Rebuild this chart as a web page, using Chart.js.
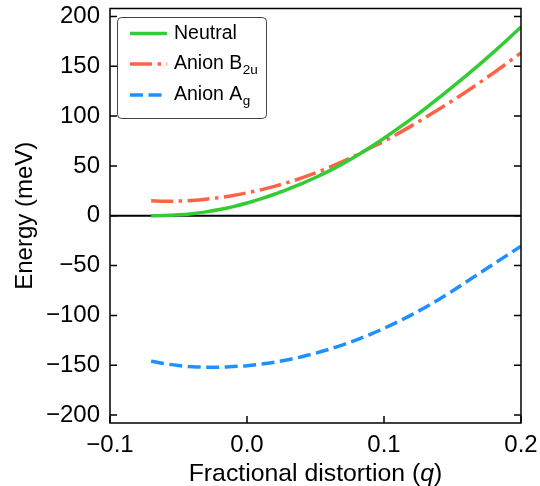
<!DOCTYPE html>
<html>
<head>
<meta charset="utf-8">
<script src="https://cdn.jsdelivr.net/npm/chart.js@4"></script>
<style>
  html, body { margin: 0; padding: 0; background: #fff; }
  #wrap { width: 540px; height: 486px; }
</style>
</head>
<body>
<div id="wrap"><canvas id="energyChart" width="540" height="486"></canvas></div>
<script>
/**
 * Fractional distortion q
 */
const distortion = [
  -0.07, -0.06, -0.05, -0.04, -0.03, -0.02, -0.01, 0.00, 0.01, 0.02,
  0.03, 0.04, 0.05, 0.06, 0.07, 0.08, 0.09, 0.10, 0.11, 0.12,
  0.13, 0.14, 0.15, 0.16, 0.17, 0.18, 0.19, 0.20
];

/**
 * Energies in meV for each state
 */
const neutral = [
  0.0, 0.2, 0.9, 2.1, 3.9, 6.2, 9.2, 12.8, 17.0, 21.6,
  26.8, 32.3, 38.4, 45.0, 52.3, 60.2, 68.7, 77.8, 87.4, 97.3,
  107.6, 118.3, 129.4, 140.7, 152.2, 164.2, 176.6, 189.5
];
const anionB2u = [
  15.0, 14.5, 14.7, 15.4, 16.6, 18.3, 20.4, 23.0, 26.0, 29.5,
  33.5, 38.0, 43.0, 48.5, 54.5, 61.0, 68.0, 74.8, 82.3, 90.2,
  98.4, 106.8, 115.5, 124.5, 133.8, 143.4, 153.3, 163.5
];
const anionAg = [
  -146.0, -148.5, -150.3, -151.5, -152.0, -152.0, -151.3, -150.5, -149.0, -147.0,
  -144.5, -141.5, -138.0, -134.0, -129.5, -124.5, -119.0, -113.0, -106.5, -99.5,
  -92.0, -84.0, -75.5, -66.5, -57.5, -48.5, -39.5, -30.5
];

/**
 * Tick positions
 */
const xTicks = [-0.1, 0.0, 0.1, 0.2];
const yTicks = [-200, -150, -100, -50, 0, 50, 100, 150, 200];

/**
 * Legend text, main part and subscript
 */
const labelMain = ['Neutral', 'Anion B', 'Anion A'];
const labelSub = ['', '2u', 'g'];

const colors = ['#33cc33', '#ff6347', '#1e90ff'];
const dashes = [[], [22, 5.5, 3.5, 5.5], [13, 5.5]];

const FONT = "'Liberation Sans', Arial, sans-serif";
const minus = (s) => s.replace('-', '\u2212');

const toPoints = (ys) => distortion.map((x, i) => ({ x, y: ys[i] }));

/**
 * Box, inward ticks, zero line, x title and legend
 */
const decorations = {
  id: 'decorations',
  beforeDatasetsDraw(chart) {
    const { ctx, chartArea: a, scales: { y } } = chart;
    const y0 = y.getPixelForValue(0);
    ctx.save();
    ctx.strokeStyle = '#000';
    ctx.lineWidth = 2;
    ctx.beginPath();
    ctx.moveTo(a.left, y0);
    ctx.lineTo(a.right, y0);
    ctx.stroke();
    ctx.restore();
  },
  afterDraw(chart) {
    const { ctx, chartArea: a, scales: { x, y } } = chart;
    const TICK = 7;
    ctx.save();
    ctx.strokeStyle = '#000';
    ctx.lineWidth = 1.5;

    ctx.beginPath();
    y.ticks.forEach(t => {
      const py = y.getPixelForValue(t.value);
      ctx.moveTo(a.left, py); ctx.lineTo(a.left + TICK, py);
      ctx.moveTo(a.right, py); ctx.lineTo(a.right - TICK, py);
    });
    x.ticks.forEach(t => {
      const px = x.getPixelForValue(t.value);
      ctx.moveTo(px, a.bottom); ctx.lineTo(px, a.bottom - TICK);
    });
    ctx.stroke();

    ctx.strokeRect(a.left, a.top, a.right - a.left, a.bottom - a.top);

    // x axis title with italic q
    ctx.fillStyle = '#000';
    ctx.textBaseline = 'alphabetic';
    const fReg = `24.8px ${FONT}`;
    const fIt = `italic 24.8px ${FONT}`;
    const parts = [['Fractional distortion (', fReg], ['q', fIt], [')', fReg]];
    let total = 0;
    parts.forEach(([s, f]) => { ctx.font = f; total += ctx.measureText(s).width; });
    let tx = (a.left + a.right) / 2 - total / 2;
    parts.forEach(([s, f]) => {
      ctx.font = f;
      ctx.fillText(s, tx, 481);
      tx += ctx.measureText(s).width;
    });

    // legend
    const bx = 117.5, by = 17.5, bw = 149, bh = 101;
    ctx.fillStyle = '#fff';
    ctx.strokeStyle = '#444';
    ctx.lineWidth = 1;
    ctx.beginPath();
    ctx.roundRect(bx, by, bw, bh, 4);
    ctx.fill();
    ctx.stroke();

    const rows = [33.5, 64, 95];
    labelMain.forEach((label, i) => {
      const ry = rows[i];
      ctx.strokeStyle = colors[i];
      ctx.lineWidth = 3.5;
      ctx.setLineDash(dashes[i]);
      ctx.beginPath();
      ctx.moveTo(130, ry);
      ctx.lineTo(167, ry);
      ctx.stroke();
      ctx.setLineDash([]);

      ctx.fillStyle = '#000';
      ctx.textBaseline = 'middle';
      ctx.font = `19.5px ${FONT}`;
      ctx.fillText(label, 174, ry);
      if (labelSub[i]) {
        const w = ctx.measureText(label).width;
        ctx.font = `13.5px ${FONT}`;
        ctx.fillText(labelSub[i], 174 + w + 0.5, ry + 6);
      }
    });
    ctx.restore();
  }
};

const datasets = [neutral, anionB2u, anionAg].map((ys, i) => ({
  label: labelMain[i] + labelSub[i],
  data: toPoints(ys),
  borderColor: colors[i],
  borderWidth: 3.5,
  borderDash: dashes[i],
  pointRadius: 0,
  fill: false,
  cubicInterpolationMode: 'monotone'
}));

const energyChart = new Chart(document.getElementById('energyChart'), {
  type: 'line',
  data: { datasets },
  options: {
    responsive: false,
    animation: false,
    events: [],
    layout: { padding: { top: 8.5, right: 19, left: 0, bottom: 0 } },
    plugins: { legend: { display: false }, tooltip: { enabled: false } },
    scales: {
      x: {
        type: 'linear',
        min: -0.1,
        max: 0.2,
        grid: { display: false, drawTicks: false },
        border: { display: false },
        ticks: {
          padding: 8,
          color: '#000',
          font: { family: FONT, size: 24 },
          callback: (v) => minus(v.toFixed(1))
        },
        afterBuildTicks: (s) => { s.ticks = xTicks.map(value => ({ value })); },
        afterFit: (s) => { s.height = 63; s.paddingLeft = 0; s.paddingRight = 0; }
      },
      y: {
        min: -208,
        max: 208,
        grid: { display: false, drawTicks: false },
        border: { display: false },
        ticks: {
          padding: 10,
          color: '#000',
          font: { family: FONT, size: 24 },
          callback: (v) => minus(String(v))
        },
        afterBuildTicks: (s) => { s.ticks = yTicks.map(value => ({ value })); },
        title: {
          display: true,
          text: 'Energy (meV)',
          color: '#000',
          font: { family: FONT, size: 24 },
          padding: { top: 11, bottom: 0 }
        },
        afterFit: (s) => { s.width = 110; s.paddingTop = 0; s.paddingBottom = 0; }
      }
    }
  },
  plugins: [decorations]
});
</script>
</body>
</html>
